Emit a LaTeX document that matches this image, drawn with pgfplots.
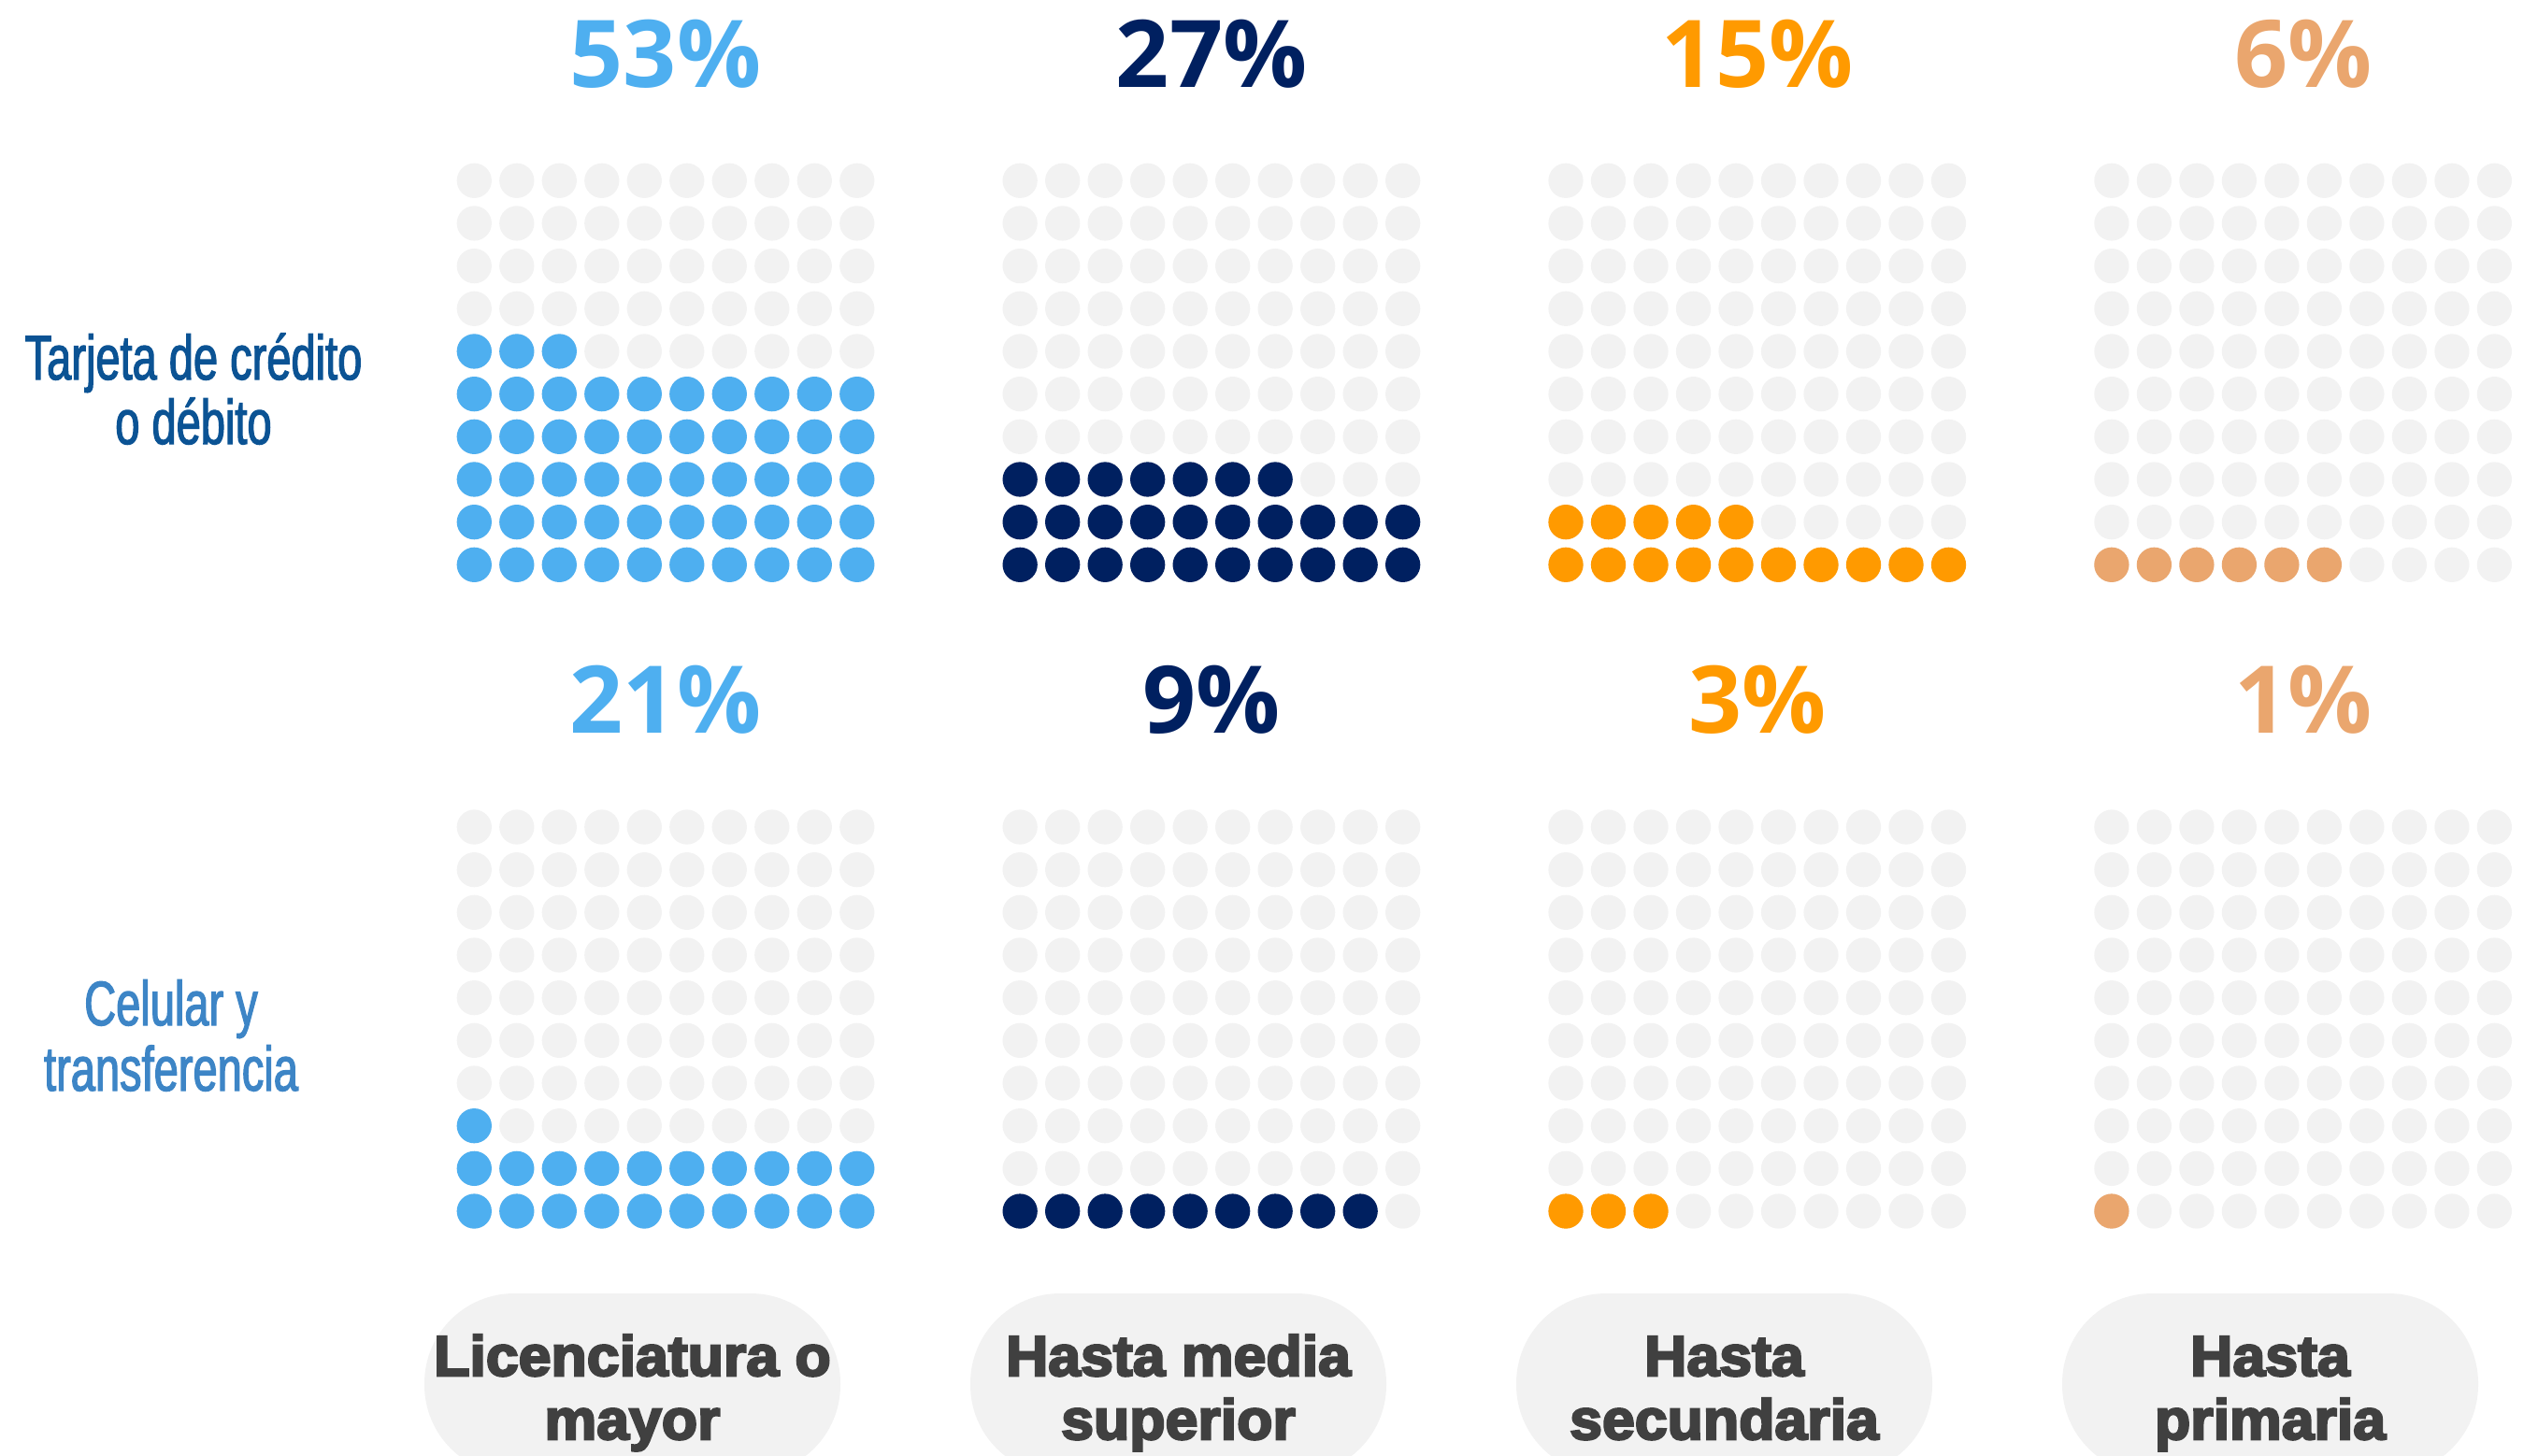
\documentclass[border=0pt]{standalone}
\usepackage{pgfplots}
\usepackage{pgfplotstable}
\pgfplotsset{compat=1.18}
\usepackage{fontspec}
\setmainfont{Liberation Sans}
\newfontfamily\pctfont{Open Sans}
\newfontfamily\labfont[FakeStretch=0.70,FakeBold=1.8]{Liberation Sans}
\newfontfamily\catfont[FakeBold=4,FakeStretch=1.03]{Liberation Sans Bold}

\definecolor{cA}{HTML}{4EAFF0}
\definecolor{cB}{HTML}{002060}
\definecolor{cC}{HTML}{FF9A00}
\definecolor{cD}{HTML}{EAA66E}
\definecolor{dotgray}{HTML}{F2F2F2}
\definecolor{pillgray}{HTML}{F2F2F2}
\definecolor{labA}{HTML}{0B5394}
\definecolor{labB}{HTML}{3D85C6}
\definecolor{cattext}{HTML}{404040}

% waffle grid: column c, row r (0 = bottom), fill order i
\pgfplotstableread[row sep=\\]{
c r i\\
0 0 1\\ 1 0 2\\ 2 0 3\\ 3 0 4\\ 4 0 5\\ 5 0 6\\ 6 0 7\\ 7 0 8\\ 8 0 9\\ 9 0 10\\
0 1 11\\ 1 1 12\\ 2 1 13\\ 3 1 14\\ 4 1 15\\ 5 1 16\\ 6 1 17\\ 7 1 18\\ 8 1 19\\ 9 1 20\\
0 2 21\\ 1 2 22\\ 2 2 23\\ 3 2 24\\ 4 2 25\\ 5 2 26\\ 6 2 27\\ 7 2 28\\ 8 2 29\\ 9 2 30\\
0 3 31\\ 1 3 32\\ 2 3 33\\ 3 3 34\\ 4 3 35\\ 5 3 36\\ 6 3 37\\ 7 3 38\\ 8 3 39\\ 9 3 40\\
0 4 41\\ 1 4 42\\ 2 4 43\\ 3 4 44\\ 4 4 45\\ 5 4 46\\ 6 4 47\\ 7 4 48\\ 8 4 49\\ 9 4 50\\
0 5 51\\ 1 5 52\\ 2 5 53\\ 3 5 54\\ 4 5 55\\ 5 5 56\\ 6 5 57\\ 7 5 58\\ 8 5 59\\ 9 5 60\\
0 6 61\\ 1 6 62\\ 2 6 63\\ 3 6 64\\ 4 6 65\\ 5 6 66\\ 6 6 67\\ 7 6 68\\ 8 6 69\\ 9 6 70\\
0 7 71\\ 1 7 72\\ 2 7 73\\ 3 7 74\\ 4 7 75\\ 5 7 76\\ 6 7 77\\ 7 7 78\\ 8 7 79\\ 9 7 80\\
0 8 81\\ 1 8 82\\ 2 8 83\\ 3 8 84\\ 4 8 85\\ 5 8 86\\ 6 8 87\\ 7 8 88\\ 8 8 89\\ 9 8 90\\
0 9 91\\ 1 9 92\\ 2 9 93\\ 3 9 94\\ 4 9 95\\ 5 9 96\\ 6 9 97\\ 7 9 98\\ 8 9 99\\ 9 9 100\\
}\grid

\pgfplotsset{
  dots/.style={only marks, color=#1, mark=*, mark size=4.46pt, mark options={draw=none, fill=#1}},
}

\begin{document}
\begin{tikzpicture}
\begin{axis}[
  width=678.75pt, height=389.25pt, scale only axis,
  xmin=0, xmax=2715, ymin=0, ymax=1557, y dir=reverse,
  hide axis, clip=true,
]
% ---- category pills
\fill[pillgray, rounded corners=24pt] (axis cs:454,1384) rectangle (axis cs:899,1578);
\fill[pillgray, rounded corners=24pt] (axis cs:1038,1384) rectangle (axis cs:1483,1578);
\fill[pillgray, rounded corners=24pt] (axis cs:1622,1384) rectangle (axis cs:2067,1578);
\fill[pillgray, rounded corners=24pt] (axis cs:2206,1384) rectangle (axis cs:2651,1578);

% ---- row 1: Tarjeta de credito o debito  (53, 27, 15, 6)
\addplot[dots=dotgray] table[x expr=\thisrow{c}*45.5+507.3, y expr=604.3-\thisrow{r}*45.67] {\grid};
\addplot[dots=cA, restrict expr to domain={\thisrow{i}}{1:53}] table[x expr=\thisrow{c}*45.5+507.3, y expr=604.3-\thisrow{r}*45.67] {\grid};
\addplot[dots=dotgray] table[x expr=\thisrow{c}*45.5+1091.15, y expr=604.3-\thisrow{r}*45.67] {\grid};
\addplot[dots=cB, restrict expr to domain={\thisrow{i}}{1:27}] table[x expr=\thisrow{c}*45.5+1091.15, y expr=604.3-\thisrow{r}*45.67] {\grid};
\addplot[dots=dotgray] table[x expr=\thisrow{c}*45.5+1675.0, y expr=604.3-\thisrow{r}*45.67] {\grid};
\addplot[dots=cC, restrict expr to domain={\thisrow{i}}{1:15}] table[x expr=\thisrow{c}*45.5+1675.0, y expr=604.3-\thisrow{r}*45.67] {\grid};
\addplot[dots=dotgray] table[x expr=\thisrow{c}*45.5+2258.85, y expr=604.3-\thisrow{r}*45.67] {\grid};
\addplot[dots=cD, restrict expr to domain={\thisrow{i}}{1:6}] table[x expr=\thisrow{c}*45.5+2258.85, y expr=604.3-\thisrow{r}*45.67] {\grid};

% ---- row 2: Celular y transferencia  (21, 9, 3, 1)
\addplot[dots=dotgray] table[x expr=\thisrow{c}*45.5+507.3, y expr=1296-\thisrow{r}*45.67] {\grid};
\addplot[dots=cA, restrict expr to domain={\thisrow{i}}{1:21}] table[x expr=\thisrow{c}*45.5+507.3, y expr=1296-\thisrow{r}*45.67] {\grid};
\addplot[dots=dotgray] table[x expr=\thisrow{c}*45.5+1091.15, y expr=1296-\thisrow{r}*45.67] {\grid};
\addplot[dots=cB, restrict expr to domain={\thisrow{i}}{1:9}] table[x expr=\thisrow{c}*45.5+1091.15, y expr=1296-\thisrow{r}*45.67] {\grid};
\addplot[dots=dotgray] table[x expr=\thisrow{c}*45.5+1675.0, y expr=1296-\thisrow{r}*45.67] {\grid};
\addplot[dots=cC, restrict expr to domain={\thisrow{i}}{1:3}] table[x expr=\thisrow{c}*45.5+1675.0, y expr=1296-\thisrow{r}*45.67] {\grid};
\addplot[dots=dotgray] table[x expr=\thisrow{c}*45.5+2258.85, y expr=1296-\thisrow{r}*45.67] {\grid};
\addplot[dots=cD, restrict expr to domain={\thisrow{i}}{1:1}] table[x expr=\thisrow{c}*45.5+2258.85, y expr=1296-\thisrow{r}*45.67] {\grid};

% ---- percentages
\def\pf{\pctfont\bfseries\fontsize{25}{25}\selectfont}
\node[anchor=base, text=cA, font=\pf] at (axis cs:712,93) {53\%};
\node[anchor=base, text=cB, font=\pf] at (axis cs:1296,93) {27\%};
\node[anchor=base, text=cC, font=\pf] at (axis cs:1880,93) {15\%};
\node[anchor=base, text=cD, font=\pf] at (axis cs:2464,93) {6\%};
\node[anchor=base, text=cA, font=\pf] at (axis cs:712,784) {21\%};
\node[anchor=base, text=cB, font=\pf] at (axis cs:1296,784) {9\%};
\node[anchor=base, text=cC, font=\pf] at (axis cs:1880,784) {3\%};
\node[anchor=base, text=cD, font=\pf] at (axis cs:2464,784) {1\%};

% ---- row labels
\def\lf{\labfont\fontsize{16.8}{16.8}\selectfont}
\node[anchor=base, text=labA, font=\lf] at (axis cs:207,406) {Tarjeta de crédito};
\node[anchor=base, text=labA, font=\lf] at (axis cs:207,475) {o débito};
\node[anchor=base, text=labB, font=\lf] at (axis cs:183,1097) {Celular y};
\node[anchor=base, text=labB, font=\lf] at (axis cs:183,1167) {transferencia};

% ---- category labels
\def\cf{\catfont\fontsize{15.2}{15.2}\selectfont}
\node[anchor=base, text=cattext, font=\cf] at (axis cs:676.5,1472) {Licenciatura o};
\node[anchor=base, text=cattext, font=\cf] at (axis cs:676.5,1540) {mayor};
\node[anchor=base, text=cattext, font=\cf] at (axis cs:1260.5,1472) {Hasta media};
\node[anchor=base, text=cattext, font=\cf] at (axis cs:1260.5,1540) {superior};
\node[anchor=base, text=cattext, font=\cf] at (axis cs:1844.5,1472) {Hasta};
\node[anchor=base, text=cattext, font=\cf] at (axis cs:1844.5,1540) {secundaria};
\node[anchor=base, text=cattext, font=\cf] at (axis cs:2428.5,1472) {Hasta};
\node[anchor=base, text=cattext, font=\cf] at (axis cs:2428.5,1540) {primaria};
\end{axis}
\pgfresetboundingbox
\path[use as bounding box] (current axis.south west) rectangle (current axis.north east);
\end{tikzpicture}
\end{document}
